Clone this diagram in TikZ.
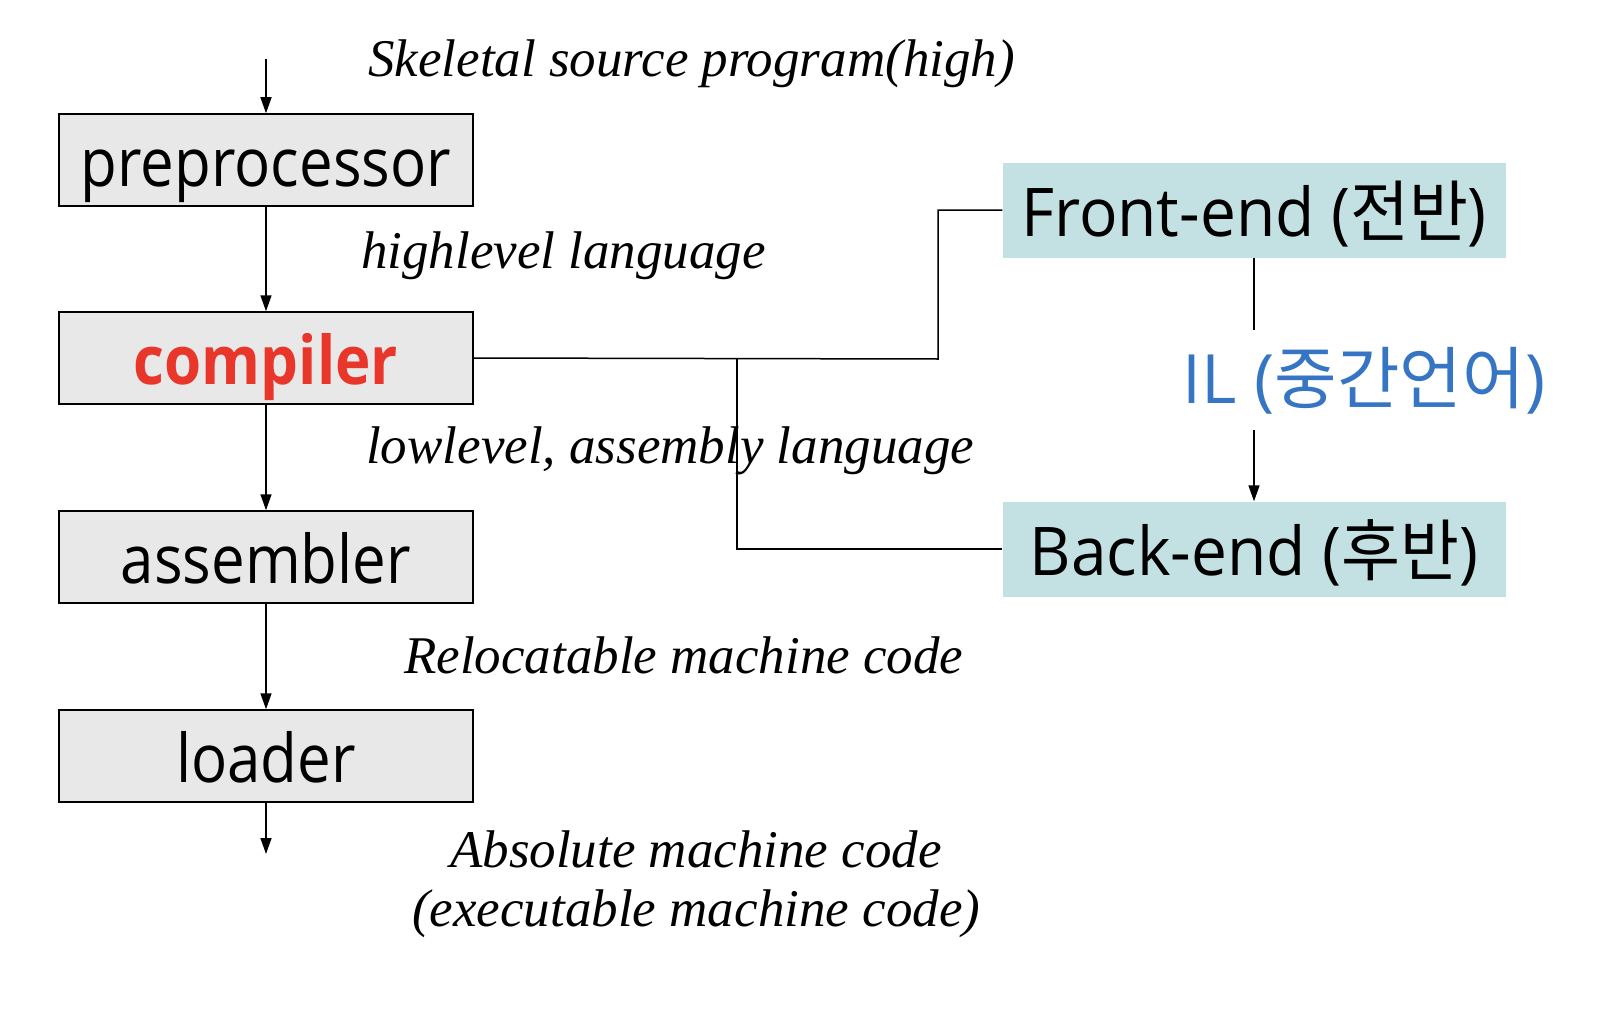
\documentclass[tikz,border=0pt]{standalone}
\usepackage{fontspec}
\usepackage{graphicx}
\setmainfont{Liberation Serif}
\newfontfamily\boxfont{Open Sans}
\newfontfamily\kr{Noto Sans CJK KR}
\usetikzlibrary{arrows.meta}
\definecolor{boxgrey}{HTML}{E8E8E8}
\definecolor{tealc}{HTML}{C3E0E2}
\definecolor{redc}{HTML}{E8372A}
\definecolor{bluec}{HTML}{3575C3}
\newcommand{\vstretch}[2]{\scalebox{1}[#1]{#2}}
\begin{document}
\begin{tikzpicture}[x=1pt,y=-1pt,
  greybox/.style={draw=black, line width=1.5pt, fill=boxgrey, minimum width=414pt, minimum height=92pt, inner sep=0pt, text height=52pt, text depth=0pt, font=\boxfont\fontsize{60}{72}\selectfont},
  tealbox/.style={fill=tealc, minimum width=503pt, minimum height=95pt, inner sep=0pt, text height=52pt, text depth=0pt, font=\boxfont\fontsize{64}{76}\selectfont},
  lab/.style={anchor=west, inner sep=0pt, font=\itshape\fontsize{53}{64}\selectfont},
  arr/.style={-{Triangle[length=16pt,width=11pt]}, line width=1.5pt},
  conn/.style={line width=1.5pt}]
\useasboundingbox (0,0) rectangle (1608,1022);
\node[greybox] (pre) at (266,160) {\vstretch{1.12}{preprocessor}};
\node[greybox] (comp) at (266,358) {\vstretch{1.12}{\textcolor{redc}{\bfseries compiler}}};
\node[greybox] (asm) at (266,557) {\vstretch{1.12}{assembler}};
\node[greybox] (load) at (266,756) {\vstretch{1.12}{loader}};
\coordinate (in) at (266,59);
\coordinate (out) at (266,854);
\draw[arr] (in) -- (pre);
\draw[arr] (pre) -- (comp);
\draw[arr] (comp) -- (asm);
\draw[arr] (asm) -- (load);
\draw[arr] (load) -- (out);

\node[tealbox] (fe) at (1254,210) {\vstretch{1.05}{Front-end ({\kr 전반})}};
\node[tealbox] (be) at (1254,549) {\vstretch{1.05}{Back-end ({\kr 후반})}};
\node[inner sep=0pt, text=bluec, font=\boxfont\fontsize{68}{80}\selectfont] (il) at (1364,381) {IL ({\kr 중간언어})};
\coordinate (ila) at (1254,330);
\coordinate (ilb) at (1254,430);
\draw[conn] (fe.south) -- (ila);
\draw[arr] (ilb) -- (be.north);

\coordinate (j1) at (938,359);
\coordinate (j2) at (737,359);
\draw[conn] (comp.east) -- (j1) |- (fe.west);
\draw[conn] (j2) |- (be.west);

\node[lab] (t1) at (368,64) {Skeletal source program(high)};
\node[lab] (t2) at (361,256) {highlevel language};
\node[lab] (t3) at (366,451) {lowlevel, assembly language};
\node[lab] (t4) at (404,655) {Relocatable machine code};
\node[lab] (t5) at (450,849) {Absolute machine code};
\node[lab] (t6) at (412,914) {(executable machine code)};
\end{tikzpicture}
\end{document}
